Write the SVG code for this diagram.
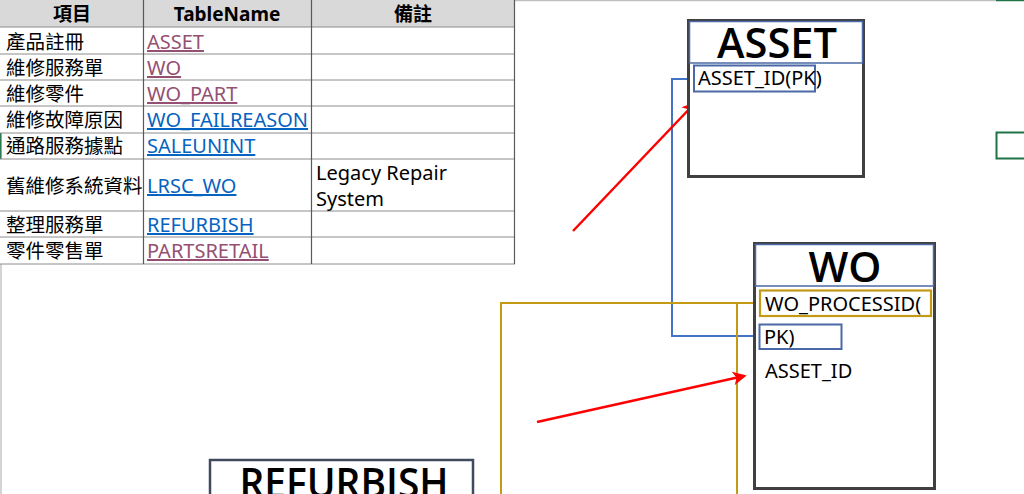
<svg xmlns="http://www.w3.org/2000/svg" width="1024" height="494" viewBox="0 0 1024 494">
<style>
  text { font-family: "Noto Sans", "Noto Sans CJK TC", sans-serif; }
  .cjk { font-size: 19.5px; fill: #000; }
  .hdr { font-size: 19px; font-weight: bold; fill: #000; text-anchor: middle; }
  .lnk { font-size: 20px; text-decoration: underline; }
  .vis { fill: #954f72; }
  .new { fill: #0563c1; }
  .note { font-size: 20px; fill: #000; }
  .title { font-family: "Open Sans", "Noto Sans", sans-serif; font-size: 42px; font-weight: 600; fill: #000; text-anchor: middle; }
  .fld { font-size: 20px; fill: #000; }
  .hline { stroke: #8c8c8c; stroke-width: 1; }
  .vline { stroke: #595959; stroke-width: 1.2; }
  .tbl { fill: #fff; stroke: #404040; stroke-width: 3; }
  .tbar { fill: none; stroke: #4a69a6; stroke-width: 1.5; }
  .blue { fill: none; stroke: #4472c4; stroke-width: 2; }
  .gold { fill: none; stroke: #c49a14; stroke-width: 2; }
  .red { fill: none; stroke: #ff0000; stroke-width: 2.5; }
</style>
<defs>
  <marker id="ah" viewBox="0 0 10 10" refX="8" refY="5" markerWidth="6" markerHeight="5.5" orient="auto" markerUnits="strokeWidth">
    <path d="M0,0 L10,5 L0,10 L2.5,5 Z" fill="#ff0000"/>
  </marker>
</defs>
<rect width="1024" height="494" fill="#ffffff"/>
<!-- sheet edges -->
<line x1="0" y1="0.5" x2="996" y2="0.5" stroke="#bfbfbf" stroke-width="1.5"/>
<line x1="996" y1="0.5" x2="1024" y2="0.5" stroke="#217346" stroke-width="1.5"/>
<line x1="1" y1="264" x2="1" y2="494" stroke="#d4d4d4" stroke-width="2"/>
<line x1="0.8" y1="133" x2="0.8" y2="159" stroke="#217346" stroke-width="1.5"/>
<rect x="996.5" y="132.5" width="30" height="26" fill="none" stroke="#217346" stroke-width="2"/>

<g id="table">
  <rect x="0" y="0" width="515" height="27" fill="#d9d9d9"/>
  <g>
    <line class="hline" x1="0" y1="27" x2="515" y2="27"/>
    <line class="hline" x1="0" y1="54" x2="515" y2="54"/>
    <line class="hline" x1="0" y1="80" x2="515" y2="80"/>
    <line class="hline" x1="0" y1="106" x2="515" y2="106"/>
    <line class="hline" x1="0" y1="133" x2="515" y2="133"/>
    <line class="hline" x1="0" y1="159" x2="515" y2="159"/>
    <line class="hline" x1="0" y1="211" x2="515" y2="211"/>
    <line class="hline" x1="0" y1="237" x2="515" y2="237"/>
    <line class="hline" x1="0" y1="264" x2="515" y2="264"/>
    <line class="vline" x1="143.5" y1="0" x2="143.5" y2="264"/>
    <line class="vline" x1="311.5" y1="0" x2="311.5" y2="264"/>
    <line class="vline" x1="514.5" y1="0" x2="514.5" y2="264"/>
  </g>
  <text class="hdr" x="72" y="21">項目</text>
  <text class="hdr" x="227" y="21">TableName</text>
  <text class="hdr" x="413" y="21">備註</text>

  <text class="cjk" x="6" y="49">產品註冊</text>
  <text class="cjk" x="6" y="75">維修服務單</text>
  <text class="cjk" x="6" y="101">維修零件</text>
  <text class="cjk" x="6" y="127">維修故障原因</text>
  <text class="cjk" x="6" y="153">通路服務據點</text>
  <text class="cjk" x="6" y="193">舊維修系統資料</text>
  <text class="cjk" x="6" y="232">整理服務單</text>
  <text class="cjk" x="6" y="258">零件零售單</text>

  <text class="lnk vis" x="147" y="49">ASSET</text>
  <text class="lnk vis" x="147" y="75">WO</text>
  <text class="lnk vis" x="147" y="101">WO_PART</text>
  <text class="lnk new" x="147" y="127">WO_FAILREASON</text>
  <text class="lnk new" x="147" y="153">SALEUNINT</text>
  <text class="lnk new" x="147" y="193">LRSC_WO</text>
  <text class="lnk new" x="147" y="232">REFURBISH</text>
  <text class="lnk vis" x="147" y="258">PARTSRETAIL</text>

  <text class="note" x="316" y="180">Legacy Repair</text>
  <text class="note" x="316" y="206">System</text>
</g>

<g id="connectors">
  <polyline class="blue" points="694,79 672,79 672,336 759,336"/>
  <polyline class="gold" points="756,303 501,303 501,494"/>
  <line class="gold" x1="737" y1="303" x2="737" y2="494"/>
  <ellipse cx="694" cy="79" rx="2.5" ry="4" fill="#4472c4"/>
  <ellipse cx="759" cy="336" rx="2.5" ry="4.5" fill="#4472c4"/>
  <ellipse cx="756" cy="303" rx="3" ry="5" fill="#c49a14"/>
  <line class="red" x1="573" y1="231" x2="694" y2="104" marker-end="url(#ah)"/>
  <line class="red" x1="537" y1="422" x2="744" y2="376" marker-end="url(#ah)"/>
</g>

<g id="node-asset">
  <rect class="tbl" x="688.5" y="20.5" width="175" height="156"/>
  <rect class="tbar" x="689.5" y="21.5" width="173" height="41.5"/>
  <text class="title" x="777" y="58" textLength="120" lengthAdjust="spacingAndGlyphs">ASSET</text>
  <rect x="694" y="65.5" width="121" height="26" fill="none" stroke="#4a69a6" stroke-width="2"/>
  <text class="fld" x="698" y="85">ASSET_ID(PK)</text>
</g>

<g id="node-wo">
  <rect class="tbl" x="754.5" y="243.5" width="180" height="245"/>
  <rect class="tbar" x="755.5" y="244.5" width="178" height="41.5"/>
  <text class="title" x="845" y="282" textLength="73" lengthAdjust="spacingAndGlyphs">WO</text>
  <rect x="760" y="290.5" width="171" height="25.5" fill="none" stroke="#c49a14" stroke-width="2.2"/>
  <text class="fld" x="765" y="311">WO_PROCESSID(</text>
  <rect x="759.5" y="324.5" width="82" height="24.5" fill="none" stroke="#4a69a6" stroke-width="2"/>
  <text class="fld" x="764" y="344">PK)</text>
  <text class="fld" x="765" y="378">ASSET_ID</text>
</g>

<g id="node-refurbish">
  <rect x="210" y="460" width="263" height="40" fill="#fff" stroke="#404a5e" stroke-width="2.5"/>
  <text class="title" x="344" y="498" textLength="209" lengthAdjust="spacingAndGlyphs">REFURBISH</text>
</g>
</svg>
